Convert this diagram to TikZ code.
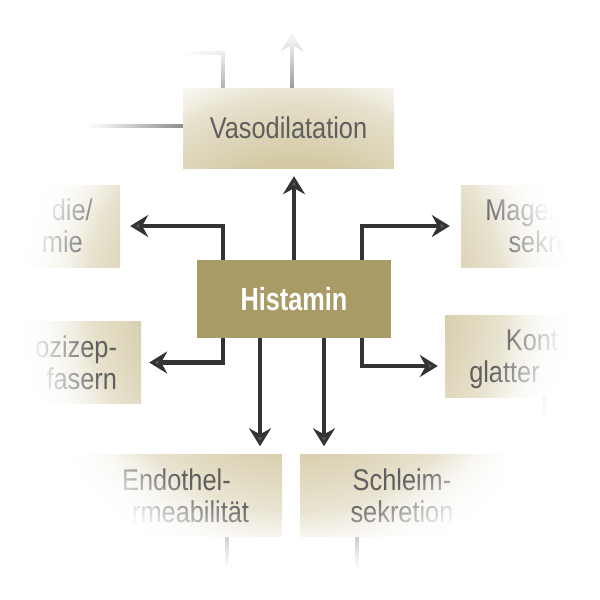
\documentclass[tikz,border=0pt]{standalone}
\usepackage{fontspec}
\setmainfont{Liberation Sans}[FakeStretch=0.845]
\newfontfamily\histfont{Liberation Sans}[FakeStretch=0.79]
\usetikzlibrary{arrows.meta,fadings}
\definecolor{khaki}{HTML}{A99B66}
\definecolor{tintdark}{HTML}{D3C9A3}
\definecolor{tintlight}{HTML}{F7F5EF}
\definecolor{boxtext}{HTML}{5F5F5F}
\pgfdeclareradialshading{boxtint}{\pgfpointorigin}{color(0bp)=(tintdark); color(6.5bp)=(tintdark); color(12.5bp)=(tintlight); color(50bp)=(tintlight)}
\pgfdeclareradialshading{edgeshade}{\pgfpointorigin}{color(0bp)=(black); color(13.5bp)=(black); color(15.4bp)=(white!50!black); color(16.9bp)=(white!85!black); color(17.8bp)=(white); color(50bp)=(white)}
\pgfdeclarefading{edgefade}{\pgfuseshading{edgeshade}}
\begin{document}
\begin{tikzpicture}[x=1pt,y=-1pt,
  box/.style={minimum height=82pt,inner sep=0pt,text depth=0pt,text=boxtext,font=\fontsize{30}{32}\selectfont,align=center,path picture={\shade[shading=boxtint] ([shift={(-520,-520)}]core) rectangle ([shift={(520,520)}]core);}},
  twoline/.style={box,text height=53.5pt},
  arr/.style={line width=4.5pt,draw=black!80,-{Stealth[length=18pt,width=22pt,inset=6pt,fill=black!62]}},
  faint/.style={line width=4pt,draw=black!45}]
\useasboundingbox (0,0) rectangle (600,600);
\coordinate (core) at (294,299);
\node[box,text height=21.5pt,minimum width=211pt,minimum height=80pt] (vaso) at (288.5,128) {Vasodilatation};
\node[fill=khaki,minimum width=194pt,minimum height=78pt,inner sep=0pt,text height=23pt,text depth=0pt,text=white,font=\fontsize{32}{32}\histfont\bfseries] (hist) at (core) {Histamin};
\node[twoline,minimum width=197pt] (tachy) at (21.5,226) {\phantom{Tachykar}die/\\\phantom{Arrhyth}mie};
\node[twoline,minimum width=148pt] (nozi) at (67,362.5) {\phantom{N}ozizep-\\\phantom{tor}fasern};
\node[twoline,minimum width=198pt] (magen) at (560,226) {Magen\phantom{säure-}\\sekre\phantom{tion}};
\node[twoline,minimum width=250pt] (kontr) at (570,356) {Kont\phantom{raktion}\\glatter\phantom{ Muskulatur}};
\node[twoline,minimum width=211pt] (endo) at (176.5,495.5) {Endothel-\\\phantom{pe}rmeabilität};
\node[twoline,minimum width=204pt] (schleim) at (402,495.5) {Schleim-\\sekretion};
\draw[arr,shorten >=10pt] ([xshift=26pt]hist.north west) |- (tachy.east);
\draw[arr,shorten >=11pt] ([xshift=-29pt]hist.north east) |- (magen.west);
\draw[arr,shorten >=8pt] (hist.north) -- (hist.north |- vaso.south);
\draw[arr,shorten >=8pt] ([xshift=26pt]hist.south west) |- (nozi.east);
\draw[arr,shorten >=7pt] ([xshift=-29pt]hist.south east) |- ([yshift=-10pt]kontr.west);
\draw[arr,shorten >=8pt] ([xshift=-34pt]hist.south) -- ([xshift=-34pt]hist.south |- endo.north);
\draw[arr,shorten >=8pt] ([xshift=30pt]hist.south) -- ([xshift=30pt]hist.south |- schleim.north);
\coordinate (vasotop) at (292,33);
\coordinate (vasoleft) at (150,53);
\coordinate (vasowest) at (60,126);
\coordinate (endodown) at (227,565);
\coordinate (schleimdown) at (357,570);
\coordinate (kontrdown) at (545,415);
\draw[faint,-{Stealth[length=18pt,width=22pt,inset=6pt]}] (vaso.north -| vasotop) -- (vasotop);
\draw[faint] ([xshift=40pt]vaso.north west) |- (vasoleft);
\draw[faint] (vaso.west |- vasowest) -- (vasowest);
\draw[faint] (endo.south -| endodown) -- (endodown);
\draw[faint] (schleim.south -| schleimdown) -- (schleimdown);
\draw[faint] (kontr.south -| kontrdown) -- (kontrdown);
\fill[white,path fading=edgefade] (-89,-81) rectangle (679,687);
\end{tikzpicture}
\end{document}
